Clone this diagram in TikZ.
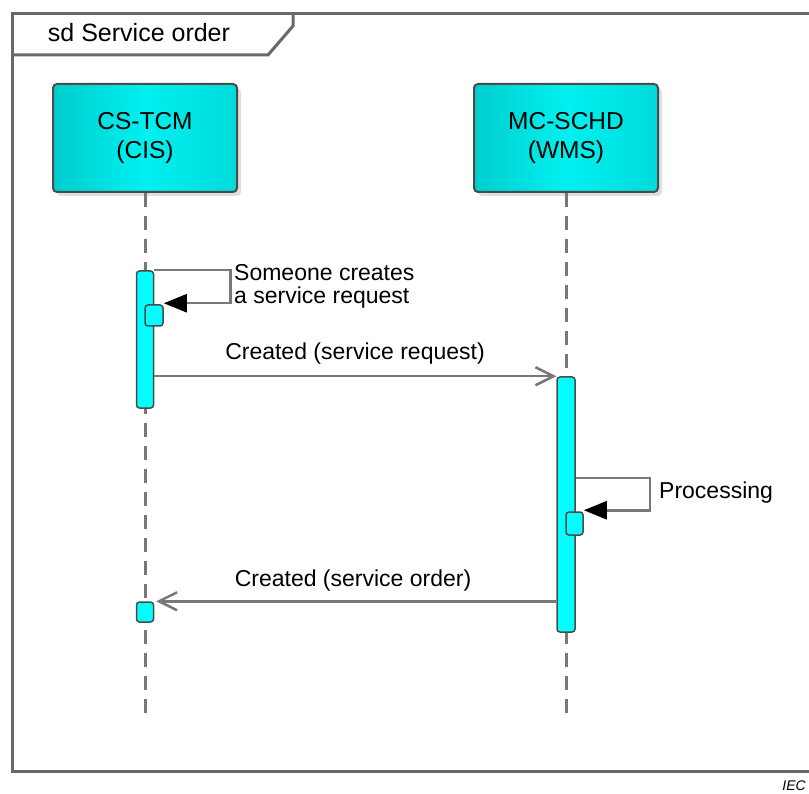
\documentclass[tikz,border=0pt]{standalone}
\usepackage{fontspec}
\setmainfont{Liberation Sans}
\usepackage{tikz}
\usetikzlibrary{calc,shapes,positioning}
\usetikzlibrary{arrows.meta}
\usetikzlibrary{shadows}
\tikzset{>={Straight Barb[width=18pt,length=18pt]}}

\definecolor{headcyan}{RGB}{0,240,240}
\definecolor{headteal}{RGB}{0,205,205}
\definecolor{barcyan}{RGB}{0,255,255}
\definecolor{framegray}{RGB}{105,105,105}
\definecolor{linegray}{RGB}{120,120,120}
\definecolor{edgegray}{RGB}{75,75,75}

\begin{document}
\begin{tikzpicture}[x=1pt,y=-1pt]
          \tikzstyle{head} = [draw=edgegray, line width=2pt, rounded corners=4pt, left color=headteal, right color=headteal!60!headcyan, middle color=headcyan, minimum width=184pt, minimum height=108pt, align=center, font=\fontsize{24.5}{29}\selectfont, drop shadow={shadow xshift=4pt, shadow yshift=-4pt, opacity=0.25}]
          \tikzstyle{bar} = [draw=edgegray, line width=1.5pt, fill=barcyan, rounded corners=3pt, inner sep=0pt]
          \tikzstyle{lifeline} = [linegray, line width=3pt, dash pattern=on 14pt off 9pt]
          \tikzstyle{msg} = [linegray, line width=2.5pt]
          \tikzstyle{selfcall} = [msg, -{Triangle[length=23pt,width=18pt,black]}]
          \tikzstyle{mlabel} = [font=\fontsize{23}{23}\selectfont, inner sep=0pt]

          \useasboundingbox (0,0) rectangle (809,794);

          % frame
          \draw[framegray, line width=3pt] (825,14) -- (12,14) -- (12,771) -- (825,771);
          \draw[framegray, line width=3pt] (12,55) -- (268,55) -- (293,26) -- (293,14);
          \node[font=\fontsize{25}{25}\selectfont, anchor=base, inner sep=0pt] (title) at (139,42) {sd Service order};

          % lifelines
          \node[head] (cs) at (145,138) {CS-TCM\\(CIS)};
          \node[head] (mc) at (566,138) {MC-SCHD\\(WMS)};
          \coordinate (csend) at (145,720);
          \coordinate (mcend) at (566,720);
          \draw[lifeline] (cs) -- (csend);
          \draw[lifeline] (mc) -- (mcend);

          % activations
          \node[bar, minimum width=17pt, minimum height=137pt] (act1) at (145,339.5) {};
          \node[bar, minimum width=18pt, minimum height=21pt] (exec1) at (154,315.5) {};
          \node[bar, minimum width=18pt, minimum height=255pt] (act2) at (566,504.5) {};
          \node[bar, minimum width=17pt, minimum height=23pt] (exec2) at (574.5,523.5) {};
          \node[bar, minimum width=17pt, minimum height=20pt] (recv1) at (145,612) {};

          % messages
          \draw[selfcall] (act1.north east) -- ++(76,0) |- ([yshift=1pt]exec1.north east);
          \node[mlabel, anchor=west, align=left] (selflbl1) at (234,286) {Someone creates\\a service request};

          \draw[msg,->] (act1.east |- act2.north) -- (act2.north west);
          \node[mlabel, anchor=base] (msglbl1) at (355,360) {Created (service request)};

          \coordinate (turn2) at (650,478);
          \draw[selfcall] (turn2 -| act2.east) -- (turn2) |- ([yshift=1pt]exec2.north east);
          \node[mlabel, anchor=base west] (selflbl2) at (659,498) {Processing};

          \draw[msg,->] (act2.west |- recv1.north) -- ([xshift=2pt]recv1.north east);
          \node[mlabel, anchor=base] (msglbl2) at (353,586) {Created (service order)};

          \node[font=\fontsize{14}{14}\selectfont\itshape, anchor=base east, inner sep=0pt] (iec) at (806,790) {IEC};
        \end{tikzpicture}
\end{document}
